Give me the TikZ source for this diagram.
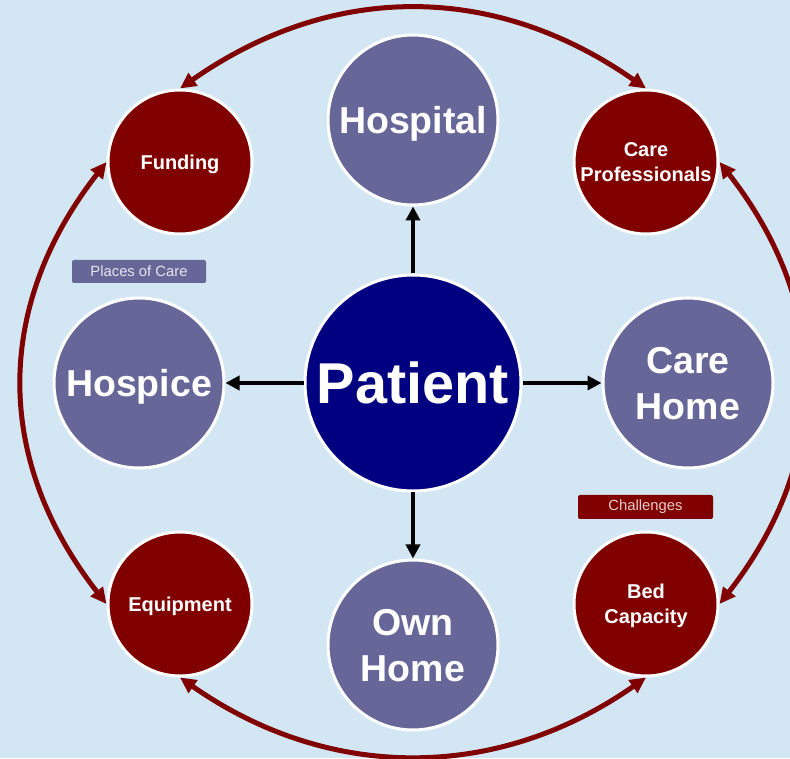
\documentclass[tikz,border=0pt]{standalone}
\usepackage{fontspec}
\setmainfont{Liberation Sans}
\usetikzlibrary{arrows.meta}
\definecolor{bgblue}{RGB}{211,230,244}
\definecolor{placeblue}{RGB}{102,102,153}
\definecolor{patientnavy}{RGB}{0,0,128}
\definecolor{darkmaroon}{RGB}{128,0,0}
\definecolor{placetext}{RGB}{230,230,236}
\definecolor{challtext}{RGB}{232,204,204}
\begin{document}
\begin{tikzpicture}[x=1pt,y=1pt,
  ring/.style={circle, draw=white, line width=3pt, inner sep=0pt, text=white,
    align=center, text depth=0pt},
  placecirc/.style={ring, fill=placeblue, minimum size=170pt,
    font=\fontsize{37.5}{46}\selectfont\bfseries},
  challcirc/.style={ring, fill=darkmaroon, minimum size=144pt,
    font=\fontsize{20}{25}\selectfont\bfseries},
  patientcirc/.style={ring, fill=patientnavy, minimum size=216pt,
    font=\fontsize{57.6}{60}\selectfont\bfseries},
  tagbox/.style={rounded corners=2pt, minimum width=134pt, minimum height=23pt,
    inner sep=0pt, font=\fontsize{14.8}{16}\selectfont},
  linkarrow/.style={draw=black, line width=4pt, -{Triangle[length=14pt,width=14pt]}},
  cyclearc/.style={draw=darkmaroon, line width=5pt,
    {Triangle[length=16pt,width=15pt]}-{Triangle[length=16pt,width=15pt]}}
]
\useasboundingbox (0,0) rectangle (790,758);
\fill[bgblue] (0,0) rectangle (790,758);

% centre and places of care
\node[patientcirc] (patient) at (413,375) {Patient};
\node[placecirc] (hospital) at (413,638) {Hospital};
\node[placecirc] (hospice) at (139,375) {Hospice};
\node[placecirc] (carehome) at (688,375) {Care\\Home};
\node[placecirc] (ownhome) at (413,113) {Own\\Home};

% challenges
\node[challcirc] (funding) at (180,596) {Funding};
\node[challcirc] (carepro) at (646,596) {Care\\Professionals};
\node[challcirc] (equipment) at (180,154) {Equipment};
\node[challcirc] (bedcap) at (646,154) {Bed\\Capacity};

% group tags
\node[tagbox, fill=placeblue, text=placetext] (placestag) at (139,486.5) {Places of Care};
\node[tagbox, fill=darkmaroon, text=challtext, minimum width=135pt, minimum height=24pt]
  (challtag) at (645.5,251) {Challenges};

% patient to places of care
\draw[linkarrow] (patient) -- (hospital);
\draw[linkarrow] (patient) -- (hospice);
\draw[linkarrow] (patient) -- (carehome);
\draw[linkarrow] (patient) -- (ownhome);

% outer cycle of challenges
\draw[cyclearc] (funding.north) to[out=35, in=145, looseness=1.02] (carepro.north);
\draw[cyclearc] (carepro.east) to[out=-52, in=52, looseness=1.06] (bedcap.east);
\draw[cyclearc] (bedcap.south) to[out=-145, in=-35, looseness=1.0] (equipment.south);
\draw[cyclearc] (equipment.west) to[out=128, in=232, looseness=1.06] (funding.west);
\end{tikzpicture}
\end{document}
